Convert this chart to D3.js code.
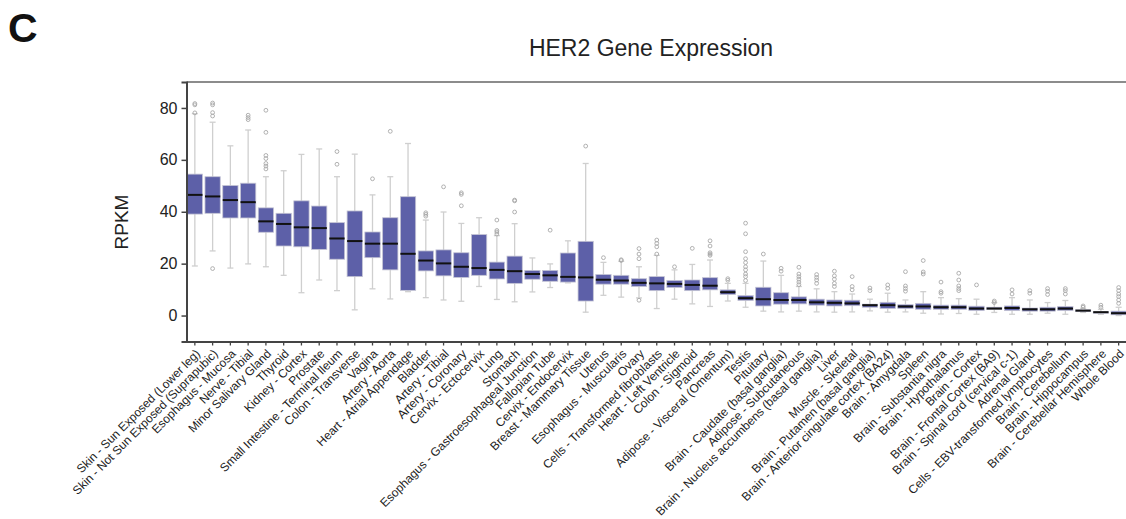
<!DOCTYPE html>
<html>
<head>
<meta charset="utf-8">
<script src="https://cdn.jsdelivr.net/npm/d3@7"></script>
<style>
  body { margin: 0; background: #fff; }
  text { font-family: "Liberation Sans", Arial, sans-serif; }
</style>
</head>
<body>
<script>
var w = 1126;
var h = 519;

var tissues = [
  "Skin - Sun Exposed (Lower leg)", "Skin - Not Sun Exposed (Suprapubic)", "Esophagus - Mucosa",
  "Nerve - Tibial", "Minor Salivary Gland", "Thyroid", "Kidney - Cortex", "Prostate",
  "Small Intestine - Terminal Ileum", "Colon - Transverse", "Vagina", "Artery - Aorta",
  "Heart - Atrial Appendage", "Bladder", "Artery - Tibial", "Artery - Coronary",
  "Cervix - Ectocervix", "Lung", "Stomach", "Esophagus - Gastroesophageal Junction",
  "Fallopian Tube", "Cervix - Endocervix", "Breast - Mammary Tissue", "Uterus",
  "Esophagus - Muscularis", "Ovary", "Cells - Transformed fibroblasts", "Heart - Left Ventricle",
  "Colon - Sigmoid", "Pancreas", "Adipose - Visceral (Omentum)", "Testis", "Pituitary",
  "Brain - Caudate (basal ganglia)", "Adipose - Subcutaneous",
  "Brain - Nucleus accumbens (basal ganglia)", "Liver", "Muscle - Skeletal",
  "Brain - Putamen (basal ganglia)", "Brain - Anterior cingulate cortex (BA24)",
  "Brain - Amygdala", "Spleen", "Brain - Substantia nigra", "Brain - Hypothalamus",
  "Brain - Cortex", "Brain - Frontal Cortex (BA9)", "Brain - Spinal cord (cervical c-1)",
  "Adrenal Gland", "Cells - EBV-transformed lymphocytes", "Brain - Cerebellum",
  "Brain - Hippocampus", "Brain - Cerebellar Hemisphere", "Whole Blood"
];

// upper whisker, Q3, median, Q1, lower whisker (RPKM)
var whiskHi = [77.8,74.5,65.4,71.5,53.5,55.8,62.1,64.2,53.5,62.2,46.5,53.5,66.3,36.8,39.9,35.5,37.7,30.8,35.4,22.2,19.9,28.8,58.6,20.5,20.9,18.8,23.2,17.6,19.7,21.4,12.4,12.4,21.0,15.5,11.2,10.3,9.2,8.3,6.3,8.6,6.0,9.2,6.9,6.5,6.3,5.0,6.9,6.0,5.0,5.8,2.7,2.4,3.2];
var q3 = [54.5,53.5,50.1,51.0,41.5,39.4,44.2,42.2,35.8,40.3,32.2,37.7,45.8,24.9,25.3,24.2,31.2,20.6,22.9,17.4,17.4,24.1,28.6,15.8,15.5,14.2,15.0,13.5,13.7,14.6,9.9,7.7,10.9,8.8,7.2,6.3,6.0,5.9,4.4,5.1,4.2,4.7,4.0,4.0,3.6,3.2,3.7,2.9,3.2,3.5,2.2,1.5,1.7];
var median = [46.5,45.9,44.5,43.7,36.3,35.3,34.0,33.7,29.7,28.7,27.7,27.7,23.8,21.2,20.1,18.8,18.3,17.6,17.1,16.0,15.5,14.9,14.7,13.8,13.5,12.6,12.4,12.2,11.8,11.5,9.0,6.7,6.3,6.0,6.0,5.1,4.9,4.7,4.0,4.0,3.5,3.5,3.2,3.2,2.7,2.7,2.9,2.4,2.4,2.7,1.9,1.3,0.9];
var q1 = [39.1,39.4,37.6,37.6,32.1,26.8,26.5,25.5,21.7,15.0,22.3,17.6,9.7,17.2,15.3,14.7,15.5,14.1,12.4,14.0,13.2,12.9,5.6,12.1,12.1,11.2,9.6,10.8,9.6,9.9,8.1,5.8,3.7,4.4,4.5,4.0,3.7,3.8,3.2,2.7,2.7,2.4,2.4,2.4,1.9,2.3,1.9,1.7,1.7,1.9,1.5,0.9,0.3];
var whiskLo = [19.1,24.9,18.3,19.9,18.8,15.5,8.8,13.7,9.6,2.2,10.3,6.4,9.2,6.9,6.0,5.5,11.2,6.2,5.3,9.1,10.8,12.6,1.3,7.8,7.1,6.8,2.7,6.3,4.5,3.5,5.6,3.2,1.7,1.4,1.7,1.4,1.3,1.4,1.8,1.3,1.4,0.9,0.6,0.8,0.5,1.2,0.5,0.5,0.9,0.5,1.2,0.5,0];

var outliers = [
  [81.7,81.2,78.1], [81.9,81.2,78.2,76.9,18.1], [], [77.2,76.3,75.5],
  [79.1,70.6,61.7,60.5,58.6,57.6,56.5], [], [], [], [63.2,58.3], [], [52.7], [71.0], [],
  [39.6,39.0,38.3], [49.6], [47.3,46.7,42.3], [], [36.8,32.8,32.2,31.4], [44.5,44.2,39.9],
  [], [32.9], [], [65.3], [22.3], [21.5,21.2], [25.8,23.7,21.9,5.9], [29.1,27.8,26.5,23.7],
  [18.8], [25.9], [28.8,26.8,24.2,23.7,23.2], [14.2,13.6],
  [35.6,31.5,24.6,21.9,20.4,18.8,17.6,16.0,15.0,13.5], [23.7], [18.2,17.1],
  [18.6,16.0,15.0,14.0,12.9,11.9], [15.8,14.7,13.7,12.4], [17.1,15.3,14.0,12.4,11.2],
  [15.0,11.2,9.9], [10.6,9.6], [11.8,10.5], [16.9,11.4,10.4,9.4], [21.2,16.8,16.0],
  [12.9,9.2,8.6], [16.3,13.7,11.4,10.4,9.6], [11.8], [5.6,5.0], [9.9,8.3], [9.6,8.6],
  [10.4,9.4,8.1], [10.4,9.6,8.3], [3.7,3.2], [4.0,3.2], [10.8,9.6,8.3,7.3,6.0,4.7]
];

var yTicks = [0, 20, 40, 60, 80];

var boxes = tissues.map(function(t, i) {
  return {name: t, hi: whiskHi[i], q3: q3[i], med: median[i], q1: q1[i], lo: whiskLo[i], out: outliers[i]};
});

var plotLeft = 186.5, plotRight = 1127, plotTop = 82, plotBottom = 341.5;

var x = d3.scaleBand()
  .domain(tissues)
  .range([plotLeft, plotRight])
  .paddingInner(0.14)
  .paddingOuter(0.04);

var y = d3.scaleLinear()
  .domain([-10, 90])
  .range([plotBottom, plotTop]);

var bw = x.bandwidth();

var svg = d3.select("body")
  .append("svg")
    .attr("width", w)
    .attr("height", h);

svg.append("text")
  .attr("x", 8)
  .attr("y", 42)
  .attr("font-size", "41px")
  .attr("font-weight", "bold")
  .attr("fill", "#111")
  .text("C");

svg.append("text")
  .attr("x", 651)
  .attr("y", 56)
  .attr("text-anchor", "middle")
  .attr("font-size", "23px")
  .attr("fill", "#222")
  .text("HER2 Gene Expression");

svg.append("text")
  .attr("transform", "translate(128,222) rotate(-90)")
  .attr("text-anchor", "middle")
  .attr("font-size", "19px")
  .attr("fill", "#222")
  .text("RPKM");

// top frame line
svg.append("line")
  .attr("x1", plotLeft).attr("x2", w)
  .attr("y1", plotTop).attr("y2", plotTop)
  .attr("stroke", "#666")
  .attr("stroke-width", 1.6);

var g = svg.selectAll("g.box")
  .data(boxes)
  .enter()
  .append("g")
    .attr("class", "box")
    .attr("transform", function(d) { return "translate(" + (x(d.name) + bw / 2) + ",0)"; });

g.append("line")
  .attr("y1", function(d) { return y(d.hi); })
  .attr("y2", function(d) { return y(d.lo); })
  .attr("stroke", "#cfcfcf")
  .attr("stroke-width", 1.3);

g.selectAll("line.cap")
  .data(function(d) { return [d.hi, d.lo]; })
  .enter()
  .append("line")
    .attr("class", "cap")
    .attr("x1", -3).attr("x2", 3)
    .attr("y1", function(v) { return y(v); })
    .attr("y2", function(v) { return y(v); })
    .attr("stroke", "#cfcfcf")
    .attr("stroke-width", 1.3);

g.append("rect")
  .attr("x", -bw / 2)
  .attr("width", bw)
  .attr("y", function(d) { return y(d.q3); })
  .attr("height", function(d) { return Math.max(1, y(d.q1) - y(d.q3)); })
  .attr("fill", "#5d60a8")
  .attr("stroke", "#c4c4d4")
  .attr("stroke-width", 0.8);

g.append("line")
  .attr("x1", -bw / 2).attr("x2", bw / 2)
  .attr("y1", function(d) { return y(d.med); })
  .attr("y2", function(d) { return y(d.med); })
  .attr("stroke", "#111")
  .attr("stroke-width", 2);

g.selectAll("circle")
  .data(function(d) { return d.out; })
  .enter()
  .append("circle")
    .attr("cx", 0)
    .attr("cy", function(v) { return y(v); })
    .attr("r", 1.9)
    .attr("fill", "none")
    .attr("stroke", "#a8a8a8")
    .attr("stroke-width", 0.9);

var yAxis = svg.append("g")
  .attr("transform", "translate(" + plotLeft + ",0)")
  .call(d3.axisLeft(y).tickValues(yTicks).tickSize(5).tickPadding(4));

yAxis.select(".domain").attr("stroke", "#444").attr("stroke-width", 2);
yAxis.selectAll(".tick line").attr("stroke", "#444").attr("stroke-width", 1.5);
yAxis.selectAll(".tick text")
  .attr("font-size", "16px")
  .attr("fill", "#222")
  .style("font-family", "'Liberation Sans', Arial, sans-serif");

var xAxis = svg.append("g")
  .attr("transform", "translate(0," + plotBottom + ")")
  .call(d3.axisBottom(x).tickSize(4).tickSizeOuter(0));

xAxis.select(".domain").attr("stroke", "#444").attr("stroke-width", 2);
xAxis.selectAll(".tick line").attr("stroke", "#444").attr("stroke-width", 1.3);
xAxis.selectAll(".tick text")
  .attr("font-size", "12px")
  .attr("fill", "#222")
  .style("font-family", "'Liberation Sans', Arial, sans-serif")
  .attr("text-anchor", "end")
  .attr("x", 0)
  .attr("y", 0)
  .attr("dy", 0)
  .attr("transform", "translate(6,13) rotate(-45)");
</script>
</body>
</html>
